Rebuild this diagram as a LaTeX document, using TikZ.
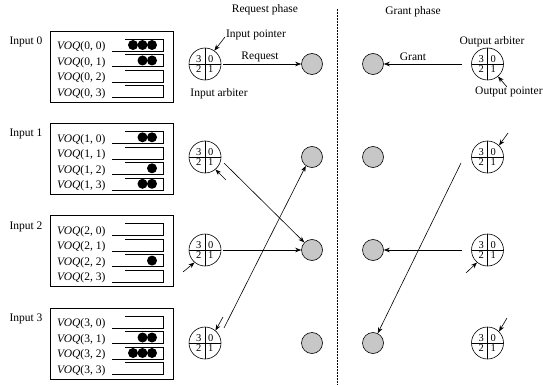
\documentclass[tikz,border=0pt]{standalone}
\usepackage{fontspec}
\setmainfont{Liberation Serif}
\usetikzlibrary{arrows.meta,calc}
\tikzset{
  lbl/.style={font=\fontsize{11.5}{13}\selectfont, inner sep=0pt},
  dig/.style={font=\fontsize{10.5}{11}\selectfont, inner sep=0pt},
  arb/.style={circle, draw, line width=0.6pt, minimum size=32pt, inner sep=0pt,
    path picture={\draw[line width=0.6pt] (path picture bounding box.north) -- (path picture bounding box.south);
                  \draw[line width=0.6pt] (path picture bounding box.west) -- (path picture bounding box.east);}},
  gnode/.style={circle, draw, line width=0.6pt, fill=black!22, minimum size=21pt, inner sep=0pt},
  arr/.style={-{Stealth[length=6pt,width=4.5pt]}, line width=0.6pt},
  qline/.style={line width=0.6pt},
  boxst/.style={draw, line width=0.8pt},
  qdot/.style={circle, fill=black, minimum size=10pt, inner sep=0pt},
}
\newcommand\myarbiter[3]{%
  \node[arb] (#1) at (#2,#3) {};
  \node[dig] (#1-3) at ($(#1)+(-6.2,-4.8)$) {3};
  \node[dig] (#1-0) at ($(#1)+(5.8,-4.8)$) {0};
  \node[dig] (#1-2) at ($(#1)+(-6.2,5.2)$) {2};
  \node[dig] (#1-1) at ($(#1)+(5.8,5.2)$) {1};
}
\begin{document}
\begin{tikzpicture}[x=1pt,y=-1pt]
\useasboundingbox (0,0) rectangle (543,385);

% input boxes with VOQs
\foreach \i/\top/\na/\nb/\nc/\nd in {0/31/3/2/0/0, 1/123.3/2/0/1/2, 2/215.6/0/0/1/0, 3/308/0/2/3/0}{
  \draw[boxst] (50,\top) rectangle (173,\top+71);
  \node[lbl] (in\i) at (26,\top+11) {Input \i};
  \foreach \j/\n in {0/\na, 1/\nb, 2/\nc, 3/\nd}{
    \pgfmathsetmacro\c{\top+16+15.5*\j}
    \node[lbl, anchor=west] (voq\i\j) at (57,\c) {\textit{VOQ}(\i, \j)};
    \draw[qline] (112,\c+4) -- (163,\c+4) -- (163,\c-8) -- (125,\c-8);
    \ifnum\n>0
      \foreach \k in {1,...,\n}{
        \node[qdot] (d\i\j\k) at (152-9.5*\k+9.5,\c-2) {};
      }
    \fi
  }
}

% arbiters and output nodes
\foreach \r/\y in {0/64,1/157,2/250,3/343}{
  \myarbiter{ia\r}{205}{\y}
  \node[gnode] (gq\r) at (312,\y) {};
  \node[gnode] (gg\r) at (373,\y) {};
  \myarbiter{oa\r}{487.5}{\y}
}

% dashed separator
\coordinate (dtop) at (337,9);
\coordinate (dbot) at (337,385);
\draw[line width=0.5pt, dash pattern=on 1.6pt off 1.4pt] (dtop) -- (dbot);

% labels
\node[lbl] (reqph) at (265,10) {Request phase};
\node[lbl] (grph) at (413,12) {Grant phase};
\node[lbl] (inptr) at (256,35) {Input pointer};
\node[lbl] (reqlbl) at (260,57) {Request};
\node[lbl] (inarb) at (219,94) {Input arbiter};
\node[lbl] (outarb) at (492,42) {Output arbiter};
\node[lbl] (grlbl) at (413,57) {Grant};
\node[lbl, anchor=west] (outptr) at (475,92) {Output pointer};

% request phase connectors
\draw[arr, shorten <=2pt] (ia0) -- (gq0);
\draw[arr, shorten <=2pt] (ia2) -- (gq2);
\coordinate (r1s) at (224,163);
\draw[arr] (r1s) -- (gq2);
\coordinate (r3s) at (224,328);
\draw[arr] (r3s) -- (gq1.235);

% grant phase connectors
\draw[arr, shorten <=9pt] (oa0) -- (gg0);
\draw[arr, shorten <=9pt] (oa2) -- (gg2);
\coordinate (g1s) at (461,163);
\draw[arr] (g1s) -- (gg3);

% pointers
\coordinate (pi0) at (225,37);
\draw[arr] (pi0) -- (ia0.55);
\coordinate (pi1) at (226,180);
\draw[arr] (pi1) -- (ia1.-50);
\coordinate (pi2) at (183,272);
\draw[arr] (pi2) -- (ia2.-130);
\coordinate (pi3) at (223,317);
\draw[arr] (pi3) -- (ia3.50);
\coordinate (po0) at (507,87);
\draw[arr] (po0) -- (oa0.-50);
\coordinate (po1) at (508,133);
\draw[arr] (po1) -- (oa1.45);
\coordinate (po2) at (466,273);
\draw[arr] (po2) -- (oa2.-130);
\coordinate (po3) at (507,318);
\draw[arr] (po3) -- (oa3.45);
\end{tikzpicture}
\end{document}
